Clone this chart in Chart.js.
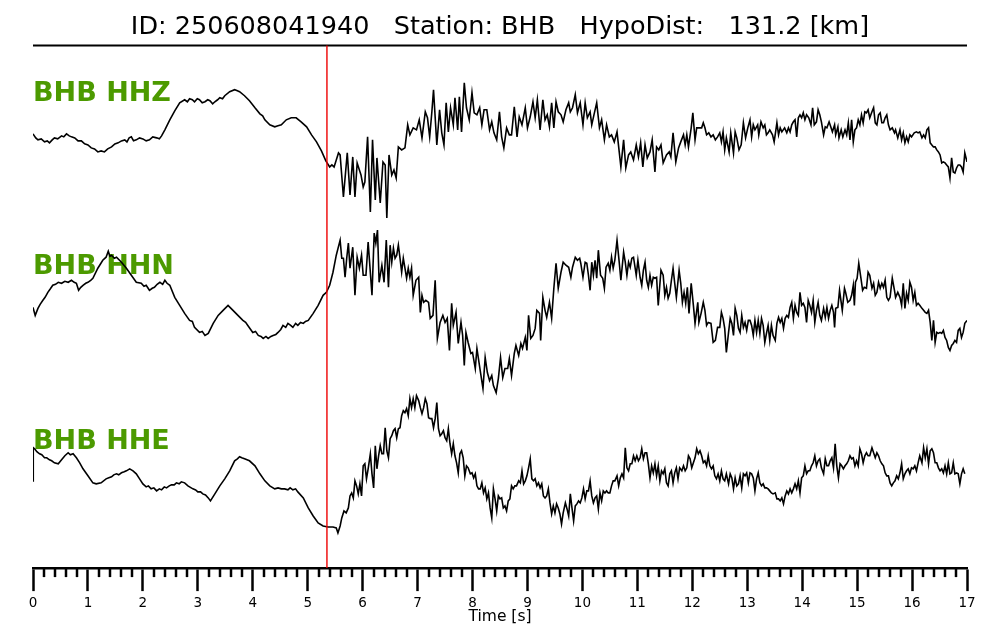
<!DOCTYPE html>
<html><head><meta charset="utf-8">
<script src="https://cdn.jsdelivr.net/npm/chart.js@4/dist/chart.umd.min.js"></script>
<style>html,body{margin:0;padding:0;background:#fff}#wrap{width:1000px;height:640px}</style>
</head><body><div id="wrap"><canvas id="c" width="1000" height="640"></canvas></div>
<script>
// ---------- chart text ----------
const titleText = 'ID: 250608041940   Station: BHB   HypoDist:   131.2 [km]';
const stationCode = 'BHB';
const channels = ['HHZ', 'HHN', 'HHE'];
const xAxisTitle = 'Time [s]';
const timeRange = [0, 17];
const majorTickStep = 1;
const minorTickStep = 0.2;
const pickTime = 5.35;              // red marker (P pick), seconds
// trace baselines and label levels (amplitude units on the shared vertical scale)
const traceBaselines = [417, 257, 97];
const labelLevels = [466, 293, 119];
const amplitudeRange = [0, 521];

// ---------- samples: [time s, amplitude] ----------
const hhz = [
[0.00,16],[0.05,12],[0.09,10],[0.15,11],[0.21,8],[0.26,9],[0.30,7],[0.35,10],[0.39,12],[0.45,11],[0.52,14],[0.56,13],[0.61,16],[0.66,14],[0.70,13],[0.76,12],[0.82,9],[0.88,9],[0.94,6],[1.00,5],
[1.06,2],[1.12,1],[1.18,-2],[1.24,-1],[1.30,-2],[1.36,1],[1.43,3],[1.49,6],[1.55,7],[1.61,9],[1.67,10],[1.71,8],[1.75,12],[1.79,13],[1.83,9],[1.88,10],[1.94,12],[2.00,11],[2.06,9],[2.12,10],
[2.18,13],[2.25,12],[2.30,11],[2.34,14],[2.40,20],[2.49,30],[2.58,39],[2.67,47],[2.76,50],[2.81,48],[2.85,51],[2.90,50],[2.94,48],[2.99,51],[3.03,50],[3.08,47],
[3.13,48],[3.18,50],[3.22,49],[3.27,46],[3.31,48],[3.36,50],[3.40,52],[3.45,51],[3.49,54],[3.58,58],[3.67,60],[3.72,59],[3.76,58],[3.85,54],[3.94,49],
[4.04,42],[4.13,36],[4.18,34],[4.22,30],[4.31,25],[4.40,23],[4.46,24],[4.52,25],[4.61,30],[4.70,32],[4.79,32],[4.88,28],
[4.98,23],[5.07,15],[5.16,8],[5.25,-1],[5.33,-11],[5.40,-17],[5.44,-15],[5.48,-17],[5.52,-10],[5.56,-3],
[5.59,-5],[5.65,-47],[5.72,-3],[5.77,-45],[5.82,-7],[5.86,-47],[5.90,-13],[5.97,-25],[6.01,-37],[6.04,-32],
[6.09,13],[6.14,-62],[6.18,10],[6.23,-50],[6.26,-8],[6.32,-53],[6.37,-12],[6.41,-15],[6.44,-68],[6.48,-5],
[6.53,-25],[6.57,-20],[6.61,-28],[6.65,3],[6.71,0],[6.77,2],[6.82,25],[6.86,15],[6.92,22],[6.98,20],
[7.03,30],[7.08,12],[7.14,38],[7.18,32],[7.22,13],[7.26,38],[7.29,60],[7.35,5],[7.40,40],[7.44,17],
[7.48,5],[7.52,47],[7.56,18],[7.60,42],[7.65,25],[7.68,52],[7.73,20],[7.76,53],[7.80,18],[7.85,67],
[7.89,42],[7.94,30],[7.99,57],[8.03,37],[8.08,35],[8.13,42],[8.17,25],[8.21,40],[8.26,40],[8.31,20],
[8.35,28],[8.39,17],[8.44,10],[8.49,38],[8.53,13],[8.57,2],[8.62,22],[8.67,15],[8.71,15],[8.76,43],
[8.81,13],[8.85,33],[8.90,25],[8.96,42],[9.00,22],[9.05,33],[9.10,48],[9.14,32],[9.18,50],[9.23,20],
[9.28,50],[9.32,30],[9.36,35],[9.40,23],[9.44,47],[9.48,22],[9.52,48],[9.56,38],[9.61,35],[9.65,28],
[9.70,40],[9.75,47],[9.78,38],[9.82,42],[9.87,55],[9.91,37],[9.96,47],[10.01,25],[10.05,47],[10.09,32],
[10.14,38],[10.17,25],[10.21,35],[10.26,47],[10.31,22],[10.35,30],[10.40,10],[10.44,25],[10.49,13],[10.53,15],
[10.58,8],[10.63,18],[10.67,-2],[10.70,-17],[10.75,10],[10.79,-18],[10.84,-5],[10.88,-2],[10.93,-10],[10.98,5],
[11.02,-7],[11.06,7],[11.10,-17],[11.14,5],[11.18,-8],[11.23,-2],[11.27,10],
[11.32,-22],[11.35,3],[11.39,0],[11.43,5],[11.47,-13],[11.53,-5],[11.58,-2],[11.61,-7],[11.65,17],[11.70,-12],
[11.75,2],[11.79,8],[11.84,15],[11.87,5],[11.90,15],[11.93,3],[11.98,22],[12.01,37],[12.05,10],[12.08,22],
[12.12,22],[12.17,22],[12.20,27],[12.23,22],[12.26,15],[12.30,17],[12.34,13],[12.38,15],[12.42,10],[12.46,13],
[12.50,17],[12.53,8],[12.56,18],[12.59,0],[12.62,12],[12.67,-2],[12.70,17],[12.75,-3],[12.78,18],[12.81,12],
[12.85,0],[12.89,5],[12.93,27],[12.97,12],[13.01,22],[13.05,30],[13.08,13],[13.11,25],[13.14,20],[13.19,25],
[13.21,15],[13.25,28],[13.29,22],[13.32,25],[13.35,15],[13.38,17],[13.41,20],[13.46,15],[13.49,8],[13.54,27],
[13.57,15],[13.60,22],[13.63,18],[13.68,22],[13.72,17],[13.75,22],[13.78,18],[13.81,25],[13.84,28],[13.87,30],
[13.90,13],[13.93,32],[13.96,35],[13.99,32],[14.02,37],[14.05,30],[14.08,35],[14.12,32],[14.16,25],[14.19,42],
[14.22,25],[14.26,28],[14.29,40],[14.32,35],[14.35,28],[14.39,15],[14.42,23],[14.45,22],[14.49,28],[14.52,23],
[14.55,18],[14.59,25],[14.61,15],[14.65,23],[14.67,12],[14.71,20],[14.74,13],[14.78,20],[14.81,15],[14.84,27],
[14.87,10],[14.90,30],[14.93,8],[14.96,20],[14.99,22],[15.02,30],[15.05,25],[15.08,35],[15.11,27],[15.14,38],
[15.17,37],[15.20,40],[15.23,32],[15.27,38],[15.30,42],[15.33,27],[15.36,25],[15.39,35],[15.42,37],[15.45,27],
[15.48,27],[15.51,32],[15.54,35],[15.57,25],[15.60,20],[15.64,22],[15.68,17],[15.70,20],[15.74,12],[15.78,20],
[15.81,10],[15.84,17],[15.87,7],[15.90,13],[15.93,8],[15.96,15],[15.99,13],[16.04,17],[16.08,18],[16.11,17],
[16.14,18],[16.18,12],[16.21,15],[16.24,12],[16.27,20],[16.30,22],[16.33,7],[16.36,5],[16.39,3],[16.42,3],
[16.45,0],[16.48,-2],[16.51,-5],[16.54,-13],[16.57,-12],[16.60,-13],[16.63,-15],[16.66,-17],[16.69,-28],[16.72,-8],
[16.75,-22],[16.78,-23],[16.81,-18],[16.84,-15],[16.87,-15],[16.90,-17],[16.93,-22],[16.96,-3],[17.00,-12]
];
const hhn = [
[0.00,3],[0.04,-5],[0.09,2],[0.13,6],[0.18,10],[0.22,13],[0.27,18],[0.31,21],[0.36,25],[0.41,26],[0.46,28],[0.52,27],[0.58,29],[0.64,28],[0.70,30],[0.75,28],[0.79,27],
[0.83,20],[0.87,23],[0.91,25],[0.96,27],[1.00,28],[1.05,30],[1.09,32],[1.18,42],[1.27,50],[1.33,53],[1.37,59],[1.40,54],[1.43,55],[1.48,52],[1.52,53],[1.61,48],
[1.70,42],[1.79,35],[1.88,28],[1.97,27],[2.02,24],[2.06,25],[2.12,20],[2.17,22],[2.21,23],[2.26,26],[2.31,28],[2.36,26],[2.40,30],[2.44,27],[2.49,25],
[2.58,13],[2.67,5],[2.76,-3],[2.85,-10],[2.90,-11],[2.94,-17],[3.03,-22],[3.08,-21],[3.13,-25],[3.19,-23],[3.28,-13],[3.37,-5],
[3.46,0],[3.55,5],[3.64,0],[3.73,-5],[3.82,-10],[3.87,-12],[3.91,-15],[4.00,-22],[4.05,-21],[4.10,-25],[4.15,-26],[4.19,-28],[4.24,-26],[4.28,-28],
[4.33,-26],[4.37,-25],[4.42,-24],[4.46,-22],[4.51,-19],[4.55,-15],[4.60,-17],[4.64,-13],[4.69,-15],[4.73,-17],[4.78,-13],[4.82,-15],[4.87,-12],[4.92,-13],[4.96,-11],[5.01,-10],[5.10,-3],[5.19,5],
[5.28,15],[5.34,18],[5.40,25],[5.46,38],[5.52,55],
[5.59,70],[5.62,52],[5.65,52],[5.68,33],[5.71,52],[5.74,67],[5.77,42],[5.82,63],[5.86,15],[5.90,53],
[5.94,42],[5.98,55],[6.01,35],[6.06,35],[6.10,68],[6.17,15],[6.21,77],[6.24,67],[6.27,80],[6.30,28],
[6.35,45],[6.39,28],[6.43,70],[6.47,23],[6.50,65],[6.53,48],[6.56,62],[6.59,52],[6.62,55],[6.65,65],
[6.68,52],[6.71,38],[6.74,52],[6.77,42],[6.80,32],[6.83,42],[6.86,33],[6.89,42],[6.92,15],[6.97,30],
[7.02,33],[7.05,-2],[7.08,15],[7.11,8],[7.15,10],[7.20,8],[7.23,-8],[7.28,-5],[7.32,30],[7.36,-28],
[7.41,-12],[7.46,-5],[7.50,-12],[7.54,-8],[7.58,-40],[7.62,7],[7.65,-15],[7.70,-2],[7.74,-33],[7.79,-12],
[7.82,-25],[7.85,-55],[7.88,-22],[7.92,-32],[7.97,-43],[8.00,-42],[8.05,-58],[8.08,-38],[8.14,-60],[8.19,-78],
[8.23,-47],[8.27,-62],[8.31,-70],[8.35,-65],[8.38,-75],[8.43,-82],[8.47,-68],[8.51,-47],[8.55,-67],[8.59,-58],
[8.64,-58],[8.67,-48],[8.71,-65],[8.76,-43],[8.79,-35],[8.84,-45],[8.88,-33],[8.91,-38],[8.96,-27],[8.99,-40],
[9.02,-5],[9.06,-28],[9.10,-25],[9.14,-18],[9.17,0],[9.22,-3],[9.24,-30],[9.28,13],[9.32,0],[9.35,-7],
[9.40,8],[9.44,-8],[9.48,22],[9.52,47],[9.56,22],[9.61,38],[9.65,48],[9.70,45],[9.75,43],[9.79,33],
[9.82,43],[9.87,53],[9.91,50],[9.95,52],[9.97,47],[10.01,33],[10.05,48],[10.08,47],[10.11,35],[10.14,20],
[10.17,48],[10.20,35],[10.23,50],[10.26,32],[10.29,60],[10.33,35],[10.37,32],[10.40,22],[10.43,43],[10.47,47],
[10.50,40],[10.53,53],[10.56,42],[10.59,50],[10.63,70],[10.67,48],[10.70,30],[10.75,58],[10.78,48],[10.81,35],
[10.84,48],[10.87,43],[10.90,52],[10.93,53],[10.98,35],[11.01,50],[11.05,33],[11.08,25],[11.11,40],[11.14,48],
[11.17,30],[11.20,23],[11.23,35],[11.26,25],[11.29,33],
[11.32,32],[11.35,33],[11.38,5],[11.43,40],[11.47,35],[11.50,15],[11.53,23],[11.56,12],[11.59,17],[11.62,30],
[11.65,42],[11.68,27],[11.71,13],[11.76,40],[11.79,27],[11.82,8],[11.85,18],[11.88,7],[11.91,23],[11.94,-3],
[11.98,27],[12.02,5],[12.05,-13],[12.10,8],[12.12,-12],[12.16,-3],[12.20,8],[12.23,0],[12.26,-15],[12.29,-12],
[12.34,-13],[12.38,-32],[12.42,-30],[12.46,-17],[12.50,-17],[12.53,-2],[12.56,-8],[12.59,-18],[12.62,-42],[12.66,-22],
[12.69,-8],[12.72,-13],[12.75,-25],[12.78,2],[12.81,-5],[12.84,-18],[12.87,-22],[12.90,-5],[12.93,-17],[12.96,-12],
[12.99,-20],[13.02,-10],[13.05,-10],[13.08,-15],[13.11,-25],[13.14,-10],[13.17,-22],[13.20,-10],[13.23,-23],[13.26,-8],
[13.29,-15],[13.32,-32],[13.35,-23],[13.38,-15],[13.41,-30],[13.44,-15],[13.47,-25],[13.51,-30],[13.54,-13],[13.57,-7],
[13.60,-12],[13.63,-8],[13.66,-18],[13.69,-8],[13.72,-5],[13.75,-7],[13.78,3],[13.81,8],[13.84,-8],[13.87,5],
[13.90,-2],[13.93,-5],[13.96,18],[13.99,5],[14.02,7],[14.05,3],[14.08,-12],[14.11,10],[14.14,5],[14.17,-2],
[14.20,10],[14.23,-12],[14.26,0],[14.29,8],[14.32,-5],[14.35,-10],[14.39,2],[14.42,-7],[14.45,3],[14.48,-8],
[14.51,0],[14.54,5],[14.57,-2],[14.59,-17],[14.61,2],[14.65,3],[14.68,20],[14.71,8],[14.73,0],[14.77,22],
[14.79,18],[14.83,8],[14.87,10],[14.90,15],[14.93,25],[14.95,5],[14.97,28],[15.00,32],[15.03,47],[15.07,32],
[15.10,20],[15.13,23],[15.17,22],[15.20,38],[15.23,35],[15.27,22],[15.30,27],[15.33,15],[15.36,18],[15.39,28],
[15.42,22],[15.45,27],[15.48,23],[15.51,30],[15.54,13],[15.57,10],[15.60,13],[15.64,32],[15.68,20],[15.70,13],
[15.74,18],[15.78,13],[15.81,5],[15.84,27],[15.87,2],[15.90,17],[15.93,10],[15.96,28],[15.99,23],[16.02,10],
[16.05,18],[16.08,5],[16.11,7],[16.14,5],[16.18,2],[16.21,0],[16.24,-2],[16.27,-3],[16.30,0],[16.33,-12],
[16.36,-30],[16.39,-10],[16.42,-32],[16.45,-22],[16.48,-23],[16.51,-22],[16.54,-23],[16.57,-20],[16.60,-27],[16.63,-30],
[16.66,-37],[16.69,-40],[16.72,-35],[16.75,-33],[16.78,-30],[16.81,-32],[16.84,-20],[16.87,-18],[16.90,-27],[16.93,-22],
[16.96,-13],[17.00,-10]
];
const hhe = [
[0.00,-10],[0.005,23],[0.03,22],[0.07,19],[0.12,17],[0.16,16],[0.21,13],[0.25,13],[0.30,11],[0.34,10],[0.39,8],[0.46,7],[0.52,11],[0.58,15],
[0.64,18],[0.68,16],[0.73,17],[0.79,13],[0.85,8],[0.91,2],[1.00,-5],[1.09,-12],[1.15,-13],[1.24,-12],[1.33,-8],
[1.38,-7],[1.43,-6],[1.47,-4],[1.52,-3],[1.56,-4],[1.61,-2],[1.66,-1],[1.70,0],[1.76,2],[1.82,0],[1.88,-3],[1.94,-8],[2.00,-13],[2.06,-16],
[2.10,-15],[2.15,-18],[2.20,-17],[2.25,-20],[2.30,-18],[2.34,-19],[2.39,-16],[2.43,-17],[2.48,-15],[2.52,-14],[2.57,-14],[2.61,-12],[2.66,-13],[2.70,-11],[2.76,-12],[2.82,-15],[2.91,-18],
[2.96,-19],[3.00,-21],[3.05,-21],[3.09,-23],[3.14,-24],[3.19,-27],[3.23,-30],[3.31,-23],[3.40,-15],[3.49,-8],[3.58,0],[3.67,10],[3.72,12],[3.76,14],
[3.80,13],[3.85,12],[3.94,10],[4.04,5],[4.13,-3],[4.22,-10],[4.31,-15],[4.40,-18],[4.46,-17],[4.52,-18],[4.58,-18],[4.64,-19],[4.68,-17],[4.73,-19],
[4.78,-18],[4.82,-21],[4.92,-27],[5.01,-37],[5.10,-45],[5.19,-52],[5.28,-55],[5.37,-56],[5.46,-56],[5.52,-57],[5.55,-62],
[5.59,-55],[5.62,-47],[5.66,-40],[5.70,-42],[5.74,-37],[5.77,-25],[5.80,-22],[5.83,-27],[5.86,-10],[5.89,-15],
[5.92,-23],[5.95,-13],[5.98,-25],[6.01,5],[6.04,7],[6.07,-8],[6.10,2],[6.14,17],[6.17,-3],[6.20,-17],
[6.23,25],[6.26,2],[6.29,15],[6.32,25],[6.35,17],[6.38,17],[6.41,43],[6.44,20],[6.47,13],[6.50,32],
[6.53,35],[6.56,40],[6.59,42],[6.62,33],[6.65,42],[6.68,43],[6.71,55],[6.74,60],[6.77,58],[6.80,62],
[6.83,55],[6.86,72],[6.89,63],[6.92,72],[6.95,63],[6.98,75],[7.02,70],[7.05,63],[7.08,57],[7.11,63],
[7.14,72],[7.17,67],[7.20,53],[7.23,52],[7.26,52],[7.29,43],[7.32,52],[7.35,68],[7.38,42],[7.41,35],
[7.44,37],[7.47,40],[7.50,33],[7.53,30],[7.56,42],[7.59,27],[7.62,17],[7.65,27],[7.68,15],[7.71,8],
[7.74,-2],[7.77,17],[7.80,20],[7.83,13],[7.86,-5],[7.89,5],[7.92,3],[7.96,-3],[7.99,-2],[8.02,-7],
[8.05,-3],[8.08,-15],[8.11,-18],[8.14,-18],[8.17,-12],[8.20,-22],[8.23,-17],[8.26,-28],[8.29,-22],[8.32,-37],
[8.35,-47],[8.38,-18],[8.41,-28],[8.44,-40],[8.47,-25],[8.50,-28],[8.53,-27],[8.56,-37],[8.59,-35],[8.62,-40],
[8.65,-30],[8.68,-28],[8.71,-15],[8.74,-18],[8.77,-15],[8.80,-15],[8.84,-10],[8.87,-12],[8.90,0],[8.93,-13],
[8.96,-10],[8.99,-5],[9.02,3],[9.05,12],[9.08,-8],[9.11,-10],[9.14,-8],[9.17,-15],[9.20,-12],[9.23,-17],
[9.26,-13],[9.29,-25],[9.32,-27],[9.35,-25],[9.38,-18],[9.41,-32],[9.44,-43],[9.47,-35],[9.50,-42],[9.53,-33],
[9.56,-37],[9.59,-43],[9.62,-53],[9.65,-42],[9.69,-32],[9.72,-38],[9.75,-45],[9.78,-23],[9.81,-37],[9.84,-50],
[9.87,-35],[9.90,-33],[9.93,-30],[9.96,-32],[9.99,-27],[10.02,-18],[10.05,-28],[10.08,-20],[10.11,-20],[10.14,-10],
[10.17,-25],[10.20,-32],[10.23,-27],[10.26,-25],[10.29,-38],[10.32,-22],[10.35,-30],[10.38,-20],[10.41,-22],[10.44,-20],
[10.47,-22],[10.50,-22],[10.53,-15],[10.56,-10],[10.59,-10],[10.63,-5],[10.66,-15],[10.69,-7],[10.72,-3],[10.75,-7],
[10.78,23],[10.81,3],[10.84,0],[10.87,7],[10.90,7],[10.93,15],[10.96,10],[10.99,15],[11.02,10],[11.05,13],
[11.08,22],[11.11,12],[11.14,18],[11.17,18],[11.20,7],[11.23,-7],[11.26,5],[11.29,-2],
[11.32,7],[11.35,-5],[11.38,5],[11.41,-10],[11.44,0],[11.47,-3],[11.50,2],[11.53,-12],[11.56,-15],[11.59,-3],
[11.62,0],[11.65,-12],[11.68,-2],[11.71,3],[11.74,-8],[11.77,3],[11.81,0],[11.84,5],[11.87,0],[11.90,3],
[11.93,15],[11.96,12],[11.99,3],[12.02,8],[12.05,13],[12.08,22],[12.11,17],[12.14,20],[12.17,15],[12.20,8],
[12.23,10],[12.26,5],[12.29,15],[12.32,5],[12.35,2],[12.38,5],[12.41,-5],[12.44,-8],[12.47,-3],[12.50,-10],
[12.53,0],[12.56,-8],[12.59,-10],[12.62,-3],[12.66,-13],[12.69,-3],[12.72,-7],[12.75,-18],[12.78,-7],[12.81,-15],
[12.84,-13],[12.87,-5],[12.90,-17],[12.93,-3],[12.96,-5],[12.99,-2],[13.02,-12],[13.05,-2],[13.08,-3],[13.11,-7],
[13.14,-20],[13.17,-8],[13.20,-2],[13.23,-12],[13.26,-15],[13.29,-13],[13.32,-17],[13.35,-17],[13.38,-18],[13.41,-20],
[13.44,-22],[13.47,-23],[13.51,-22],[13.54,-28],[13.57,-28],[13.60,-30],[13.63,-27],[13.66,-33],[13.69,-25],[13.72,-20],
[13.75,-23],[13.78,-18],[13.81,-22],[13.84,-18],[13.87,-13],[13.90,-18],[13.93,-10],[13.96,-22],[13.99,-7],[14.02,-5],
[14.05,5],[14.08,-3],[14.11,0],[14.14,0],[14.17,5],[14.20,8],[14.23,15],[14.26,5],[14.29,10],[14.32,12],
[14.35,3],[14.39,-3],[14.42,12],[14.45,5],[14.48,5],[14.51,10],[14.54,13],[14.57,3],[14.60,27],[14.63,5],
[14.66,-7],[14.69,7],[14.72,5],[14.75,2],[14.78,5],[14.81,7],[14.84,10],[14.87,15],[14.90,12],[14.93,13],
[14.96,5],[14.99,10],[15.02,5],[15.05,22],[15.08,17],[15.11,8],[15.14,15],[15.17,18],[15.20,15],[15.23,15],
[15.27,23],[15.30,18],[15.33,13],[15.36,18],[15.39,15],[15.42,10],[15.45,7],[15.48,5],[15.51,-2],[15.54,-5],
[15.57,-5],[15.60,-12],[15.63,-15],[15.66,-12],[15.69,-10],[15.72,-5],[15.75,-8],[15.78,-2],[15.81,7],[15.84,-8],
[15.87,-3],[15.90,0],[15.93,2],[15.96,-3],[15.99,3],[16.02,2],[16.05,5],[16.08,0],[16.11,8],[16.14,15],
[16.18,8],[16.21,23],[16.24,13],[16.27,22],[16.30,7],[16.33,20],[16.36,22],[16.39,18],[16.42,8],[16.45,8],
[16.48,3],[16.51,0],[16.54,2],[16.57,-2],[16.60,5],[16.63,-3],[16.66,8],[16.69,-3],[16.72,-2],[16.75,8],
[16.78,-3],[16.81,-2],[16.84,-3],[16.87,-13],[16.90,-3],[16.93,2],[16.96,-3]
];
const traces = [hhz, hhn, hhe];

// ---------- styles ----------
const FONT = 'DejaVu Sans';
const labelColor = '#4c9a00';
const pickColor = '#ee0000';

const overlay = {
  id: 'seismoOverlay',
  beforeDatasetsDraw(chart) {
    const {ctx, scales: {y}, chartArea} = chart;
    ctx.save();
    ctx.fillStyle = labelColor;
    ctx.font = 'bold 27px "' + FONT + '"';
    ctx.textAlign = 'left';
    ctx.textBaseline = 'alphabetic';
    channels.forEach((ch, k) => {
      ctx.fillText(stationCode + ' ' + ch, chartArea.left, y.getPixelForValue(labelLevels[k]));
    });
    ctx.restore();
  },
  afterDraw(chart) {
    const {ctx, scales: {x}, chartArea} = chart;
    ctx.save();
    // frame line under the title
    ctx.strokeStyle = '#000';
    ctx.lineWidth = 2;
    ctx.beginPath();
    ctx.moveTo(chartArea.left, chartArea.top);
    ctx.lineTo(chartArea.right, chartArea.top);
    ctx.stroke();
    // minor ticks
    ctx.lineWidth = 2.5;
    const nMinor = Math.round((timeRange[1] - timeRange[0]) / minorTickStep);
    for (let i = 0; i <= nMinor; i++) {
      if (i % Math.round(majorTickStep / minorTickStep) === 0) continue;
      const px = Math.round(x.getPixelForValue(timeRange[0] + i * minorTickStep));
      ctx.beginPath();
      ctx.moveTo(px, chartArea.bottom);
      ctx.lineTo(px, chartArea.bottom + 9);
      ctx.stroke();
    }
    // pick marker
    const xp = x.getPixelForValue(pickTime);
    ctx.strokeStyle = pickColor;
    ctx.lineWidth = 1.4;
    ctx.beginPath();
    ctx.moveTo(xp, chartArea.top);
    ctx.lineTo(xp, chartArea.bottom);
    ctx.stroke();
    ctx.restore();
  }
};

new Chart(document.getElementById('c').getContext('2d'), {
  type: 'line',
  data: {
    datasets: traces.map((s, k) => ({
      label: stationCode + ' ' + channels[k],
      data: s.map(p => ({x: p[0], y: traceBaselines[k] + p[1]})),
      borderColor: '#000',
      borderWidth: 1.6,
      pointRadius: 0,
      tension: 0,
      fill: false
    }))
  },
  options: {
    responsive: false,
    animation: false,
    devicePixelRatio: 1,
    layout: {padding: {left: 33, right: 33, top: 0, bottom: 17}},
    plugins: {
      legend: {display: false},
      tooltip: {enabled: false},
      title: {
        display: true, text: titleText, color: '#000',
        font: {family: FONT, size: 25.5, weight: 'normal'},
        padding: {top: 12, bottom: 3}
      }
    },
    scales: {
      x: {
        type: 'linear', min: timeRange[0], max: timeRange[1], position: 'bottom',
        border: {display: true, color: '#000', width: 2.5},
        grid: {display: true, drawOnChartArea: false, drawTicks: true, tickLength: 23, tickWidth: 2.5, tickColor: '#000'},
        ticks: {stepSize: majorTickStep, autoSkip: false, maxRotation: 0, color: '#000', padding: 6,
                font: {family: FONT, size: 13.5, lineHeight: 1.0}},
        title: {display: true, text: xAxisTitle, color: '#000', font: {family: FONT, size: 15.5, lineHeight: 0.8}, padding: {top: -6, bottom: 0}}
      },
      y: {display: false, min: amplitudeRange[0], max: amplitudeRange[1]}
    }
  },
  plugins: [overlay]
});
</script>
</body></html>
